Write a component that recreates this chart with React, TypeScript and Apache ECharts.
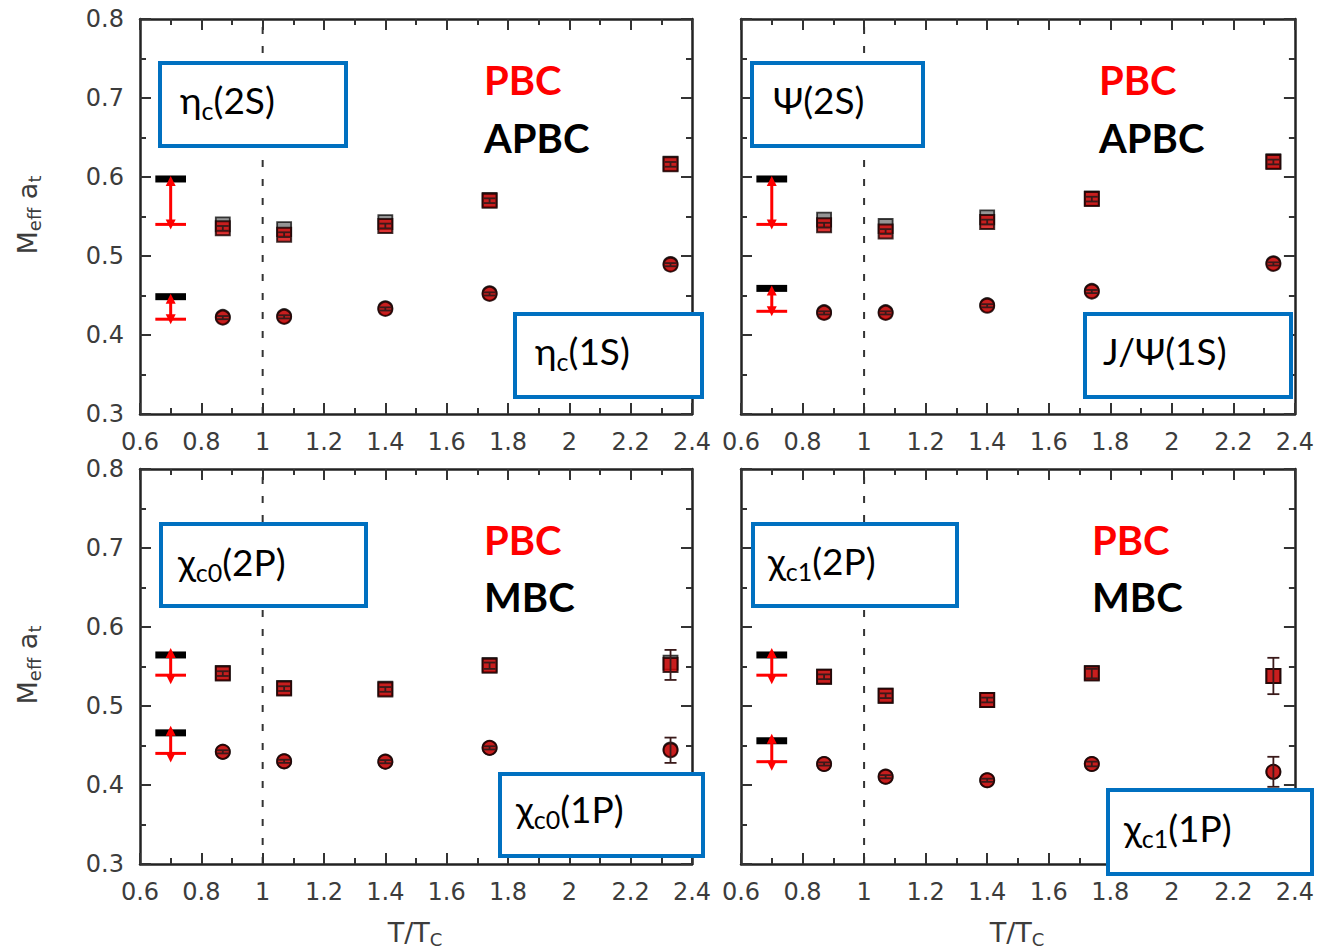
import React, { useEffect, useRef } from "react";
import * as echarts from "echarts";

// Temperatures (T/Tc) of the ensembles
const temps = [0.87, 1.07, 1.4, 1.74, 2.33];
const criticalT = 1;
const refT = 0.7;
const refHalfWidth = 0.05;

// eta_c : 2S (squares) and 1S (circles), PBC vs APBC
const etac2S_PBC = [0.535, 0.527, 0.538, 0.570, 0.616];
const etac2S_APBC = [0.540, 0.534, 0.543, 0.571, 0.617];
const etac2S_err = [0.003, 0.003, 0.003, 0.003, 0.003];
const etac1S_PBC = [0.422, 0.423, 0.433, 0.452, 0.489];
const etac1S_APBC = [0.423, 0.424, 0.434, 0.453, 0.490];
const etac1S_err = [0.002, 0.002, 0.002, 0.002, 0.002];
const etacRefBlack = [0.5975, 0.4485];
const etacRefRed = [0.540, 0.420];

// psi : 2S and J/psi 1S
const psi2S_PBC = [0.539, 0.531, 0.543, 0.572, 0.619];
const psi2S_APBC = [0.546, 0.538, 0.549, 0.573, 0.620];
const psi2S_err = [0.003, 0.003, 0.003, 0.003, 0.003];
const psi1S_PBC = [0.428, 0.428, 0.437, 0.455, 0.490];
const psi1S_APBC = [0.429, 0.429, 0.438, 0.456, 0.491];
const psi1S_err = [0.002, 0.002, 0.002, 0.002, 0.002];
const psiRefBlack = [0.5975, 0.459];
const psiRefRed = [0.540, 0.430];

// chi_c0 : 2P and 1P, PBC vs MBC
const chic02P_PBC = [0.541, 0.522, 0.521, 0.551, 0.552];
const chic02P_MBC = [0.542, 0.523, 0.522, 0.552, 0.555];
const chic02P_err = [0.003, 0.003, 0.003, 0.004, 0.019];
const chic01P_PBC = [0.442, 0.430, 0.4295, 0.447, 0.444];
const chic01P_MBC = [0.442, 0.430, 0.4295, 0.447, 0.445];
const chic01P_err = [0.002, 0.002, 0.002, 0.002, 0.016];
const chic0RefBlack = [0.5646, 0.466];
const chic0RefRed = [0.539, 0.440];

// chi_c1 : 2P and 1P, PBC vs MBC
const chic12P_PBC = [0.537, 0.513, 0.5076, 0.541, 0.538];
const chic12P_MBC = [0.537, 0.513, 0.5076, 0.542, 0.538];
const chic12P_err = [0.003, 0.003, 0.003, 0.006, 0.023];
const chic11P_PBC = [0.4266, 0.4105, 0.406, 0.4266, 0.4167];
const chic11P_MBC = [0.4266, 0.4105, 0.406, 0.4266, 0.4167];
const chic11P_err = [0.002, 0.002, 0.002, 0.003, 0.019];
const chic1RefBlack = [0.5646, 0.456];
const chic1RefRed = [0.539, 0.4295];

// Axis tick ranges
const xMin = 0.6, xMax = 2.4, xStep = 0.2;
const yMin = 0.3, yMax = 0.8, yStep = 0.1;

type Panel = {
  upper: { pbc: number[]; alt: number[]; err: number[] };
  lower: { pbc: number[]; alt: number[]; err: number[] };
  refBlack: number[];
  refRed: number[];
  grid: { left: number; top: number; width: number; height: number };
  yLabels: boolean;
  arrowOver: [number, number];
};

const panels: Panel[] = [
  {
    upper: { pbc: etac2S_PBC, alt: etac2S_APBC, err: etac2S_err },
    lower: { pbc: etac1S_PBC, alt: etac1S_APBC, err: etac1S_err },
    refBlack: etacRefBlack, refRed: etacRefRed,
    grid: { left: 140, top: 19, width: 552, height: 395 }, yLabels: true, arrowOver: [3, 5],
  },
  {
    upper: { pbc: psi2S_PBC, alt: psi2S_APBC, err: psi2S_err },
    lower: { pbc: psi1S_PBC, alt: psi1S_APBC, err: psi1S_err },
    refBlack: psiRefBlack, refRed: psiRefRed,
    grid: { left: 741, top: 19, width: 554, height: 395 }, yLabels: false, arrowOver: [3, 5],
  },
  {
    upper: { pbc: chic02P_PBC, alt: chic02P_MBC, err: chic02P_err },
    lower: { pbc: chic01P_PBC, alt: chic01P_MBC, err: chic01P_err },
    refBlack: chic0RefBlack, refRed: chic0RefRed,
    grid: { left: 140, top: 469, width: 552, height: 395 }, yLabels: true, arrowOver: [7, 9],
  },
  {
    upper: { pbc: chic12P_PBC, alt: chic12P_MBC, err: chic12P_err },
    lower: { pbc: chic11P_PBC, alt: chic11P_MBC, err: chic11P_err },
    refBlack: chic1RefBlack, refRed: chic1RefRed,
    grid: { left: 741, top: 469, width: 554, height: 395 }, yLabels: false, arrowOver: [7, 9],
  },
];

const AXIS_FONT = "'DejaVu Sans', sans-serif";
const BOX_FONT = "Lato, 'Noto Sans', sans-serif";
const tickColor = "#333";
const labelColor = "#3c3c3c";

function buildAxes(i: number, p: Panel) {
  const line = { show: true, onZero: false, lineStyle: { color: "#222", width: 2.5 } };
  const tick = { show: true, inside: true, length: 11, lineStyle: { color: tickColor, width: 2 } };
  const minor = { show: true, splitNumber: 2, length: 6, lineStyle: { color: tickColor, width: 2 } };
  const xBase = {
    gridIndex: i, type: "value", min: xMin, max: xMax, interval: xStep,
    axisLine: line, axisTick: tick, minorTick: minor, splitLine: { show: false },
  };
  const yBase = {
    gridIndex: i, type: "value", min: yMin, max: yMax, interval: yStep,
    axisLine: line, axisTick: tick, minorTick: minor, splitLine: { show: false },
  };
  const labelStyle = { fontSize: 24, fontFamily: AXIS_FONT, color: labelColor };
  return {
    x: [
      {
        ...xBase, position: "bottom",
        axisLabel: { ...labelStyle, margin: 16, formatter: (v: number) => String(Math.round(v * 10) / 10) },
      },
      { ...xBase, position: "top", axisLabel: { show: false } },
    ],
    y: [
      {
        ...yBase, position: "left",
        axisLabel: { ...labelStyle, show: p.yLabels, margin: 16, formatter: (v: number) => v.toFixed(1) },
      },
      { ...yBase, position: "right", axisLabel: { show: false } },
    ],
  };
}

function errorBarRender(params: any, api: any) {
  const x = api.value(0);
  const lo = api.coord([x, api.value(1)]);
  const hi = api.coord([x, api.value(2)]);
  const hw = 6;
  const style = { stroke: "#3a1a1a", lineWidth: 1.8 };
  return {
    type: "group",
    children: [
      { type: "line", shape: { x1: hi[0], y1: hi[1], x2: lo[0], y2: lo[1] }, style },
      { type: "line", shape: { x1: hi[0] - hw, y1: hi[1], x2: hi[0] + hw, y2: hi[1] }, style },
      { type: "line", shape: { x1: lo[0] - hw, y1: lo[1], x2: lo[0] + hw, y2: lo[1] }, style },
    ],
  };
}

function refRender(over: [number, number]) {
  return (params: any, api: any) => {
    const xc = api.value(0);
    const yb = api.value(1);
    const yr = api.value(2);
    const bL = api.coord([xc - refHalfWidth, yb]);
    const bR = api.coord([xc + refHalfWidth, yb]);
    const rL = api.coord([xc - refHalfWidth, yr]);
    const rR = api.coord([xc + refHalfWidth, yr]);
    const cx = api.coord([xc, yb])[0];
    const top = bL[1] - over[0];
    const bot = rL[1] + over[1];
    const head = 10;
    const hw = 5;
    const red = "#ff0000";
    return {
      type: "group",
      children: [
        { type: "rect", shape: { x: bL[0], y: bL[1] - 3.5, width: bR[0] - bL[0], height: 7 }, style: { fill: "#000" } },
        { type: "line", shape: { x1: rL[0], y1: rL[1], x2: rR[0], y2: rR[1] }, style: { stroke: red, lineWidth: 3 } },
        { type: "line", shape: { x1: cx, y1: top + head - 1, x2: cx, y2: bot - head + 1 }, style: { stroke: red, lineWidth: 3 } },
        { type: "polygon", shape: { points: [[cx, top], [cx - hw, top + head], [cx + hw, top + head]] }, style: { fill: red } },
        { type: "polygon", shape: { points: [[cx, bot], [cx - hw, bot - head], [cx + hw, bot - head]] }, style: { fill: red } },
      ],
    };
  };
}

function buildSeries(i: number, p: Panel) {
  const ax = { xAxisIndex: 2 * i, yAxisIndex: 2 * i };
  const pts = (arr: number[]) => temps.map((t, j) => [t, arr[j]]);
  const bars = (arr: number[], err: number[]) => temps.map((t, j) => [t, arr[j] - err[j], arr[j] + err[j]]);
  const altStyle = { color: "#7a7a7a", borderColor: "#111", borderWidth: 1.8 };
  const pbcStyle = { color: "#d40000", borderColor: "#150000", borderWidth: 2 };
  const out: any[] = [
    {
      type: "line", ...ax, data: [[criticalT, yMin], [criticalT, yMax]], symbol: "none", z: 1,
      lineStyle: { color: "#333", width: 2, type: [7, 12] }, silent: true,
    },
  ];
  for (const [sym, st] of [["rect", p.upper], ["circle", p.lower]] as const) {
    out.push({ type: "scatter", ...ax, symbol: sym, symbolSize: 14, data: pts(st.alt), itemStyle: altStyle, z: 2 });
    out.push({ type: "scatter", ...ax, symbol: sym, symbolSize: 14, data: pts(st.pbc), itemStyle: pbcStyle, z: 3 });
    out.push({ type: "custom", ...ax, data: bars(st.pbc, st.err), encode: { x: 0, y: [1, 2] }, renderItem: errorBarRender, z: 4 });
  }
  out.push({
    type: "custom", ...ax, z: 4,
    data: p.refBlack.map((b, k) => [refT, b, p.refRed[k]]),
    encode: { x: 0, y: [1, 2] },
    renderItem: refRender(p.arrowOver),
  });
  return out;
}

// Particle name boxes: [left, top, width, height, label x, label centre y, rich text]
const nameBoxes: [number, number, number, number, number, number, string][] = [
  [158, 61, 190, 87, 180, 99, "{g|η}{s|c}{g|(2S)}"],
  [513, 312, 191, 87, 535, 350, "{g|η}{s|c}{g|(1S)}"],
  [750, 61, 175, 87, 773, 99, "{g|Ψ(2S)}"],
  [1083, 312, 210, 87, 1103, 350, "{g|J/Ψ(1S)}"],
  [159, 522, 209, 86, 178, 561, "{g|χ}{s|c0}{g|(2P)}"],
  [498, 772, 207, 86, 516, 808, "{g|χ}{s|c0}{g|(1P)}"],
  [751, 522, 208, 86, 768, 560, "{g|χ}{s|c1}{g|(2P)}"],
  [1106, 788, 208, 88, 1124, 827, "{g|χ}{s|c1}{g|(1P)}"],
];

// Boundary-condition tags: [x, y centre, text, colour]
const bcTags: [number, number, string, string][] = [
  [484, 80, "PBC", "#ff0000"],
  [484, 138, "APBC", "#000"],
  [1099, 80, "PBC", "#ff0000"],
  [1099, 138, "APBC", "#000"],
  [484, 540, "PBC", "#ff0000"],
  [484, 597, "MBC", "#000"],
  [1092, 540, "PBC", "#ff0000"],
  [1092, 597, "MBC", "#000"],
];

function buildGraphics() {
  const els: any[] = [];
  for (const [l, t, w, h, tx, ty, txt] of nameBoxes) {
    els.push({
      type: "rect", z: 10,
      shape: { x: l + 2, y: t + 2, width: w - 4, height: h - 4 },
      style: { fill: "#fff", stroke: "#0070c0", lineWidth: 4 },
    });
    els.push({
      type: "text", z: 11, x: tx, y: ty,
      style: {
        text: txt, align: "left", verticalAlign: "middle",
        rich: {
          g: { fontSize: 37, fontFamily: BOX_FONT, fill: "#000", lineHeight: 46 },
          s: { fontSize: 25, fontFamily: BOX_FONT, fill: "#000", lineHeight: 18, verticalAlign: "bottom" },
        },
      },
    });
  }
  for (const [x, y, txt, col] of bcTags) {
    els.push({
      type: "text", z: 11, x, y,
      style: { text: txt, fill: col, font: `bold 40px ${BOX_FONT}`, align: "left", verticalAlign: "middle" },
    });
  }
  const axisRich = {
    m: { fontSize: 27, fontFamily: AXIS_FONT, fill: labelColor, lineHeight: 32 },
    s: { fontSize: 18, fontFamily: AXIS_FONT, fill: labelColor, lineHeight: 15, verticalAlign: "bottom" },
  };
  for (const y of [215, 665]) {
    els.push({
      type: "text", z: 11, x: 27, y, rotation: Math.PI / 2,
      style: { text: "{m|M}{s|eff}{m| a}{s|t}", align: "center", verticalAlign: "middle", rich: axisRich },
    });
  }
  for (const x of [415, 1017]) {
    els.push({
      type: "text", z: 11, x, y: 932,
      style: { text: "{m|T/T}{s|C}", align: "center", verticalAlign: "middle", rich: axisRich },
    });
  }
  return els;
}

export default function App() {
  const ref = useRef<HTMLDivElement>(null);
  useEffect(() => {
    if (!ref.current) return;
    const chart = echarts.init(ref.current, undefined, { renderer: "svg" });
    const xAxis: any[] = [];
    const yAxis: any[] = [];
    let series: any[] = [];
    panels.forEach((p, i) => {
      const a = buildAxes(i, p);
      xAxis.push(...a.x);
      yAxis.push(...a.y);
      series = series.concat(buildSeries(i, p));
    });
    chart.setOption({
      animation: false,
      backgroundColor: "#fff",
      grid: panels.map((p) => ({ ...p.grid, containLabel: false })),
      xAxis,
      yAxis,
      series,
      graphic: buildGraphics(),
    });
    return () => chart.dispose();
  }, []);
  return (
    <div
      ref={ref}
      style={{ position: "fixed", left: 0, top: 0, width: 1317, height: 950, background: "#fff" }}
    />
  );
}
